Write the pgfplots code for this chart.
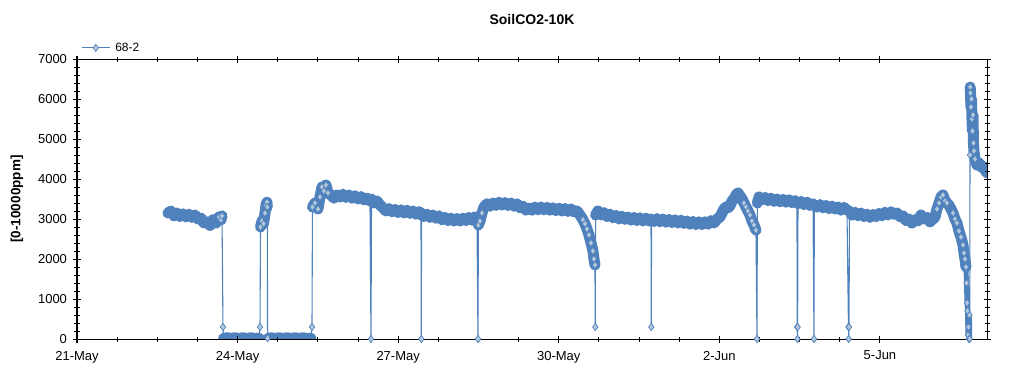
\documentclass[border=0pt]{standalone}
\usepackage{pgfplots}
\pgfplotsset{compat=1.18}
\usepackage{pgfplotstable}
\usepackage{fontspec}
\setmainfont{Liberation Sans}
\definecolor{serblue}{RGB}{79,129,189}
\definecolor{serfill}{RGB}{180,200,220}
% d = days after 21-May 00:00, v = ppm, b = 1 band point, 2 band point with visible marker, 3 narrow band point with marker, 0 isolated point
\pgfplotstableread{
d v b
1.700 3150 1
1.756 3200 1
1.812 3080 1
1.868 3150 1
1.924 3060 1
1.980 3130 1
2.036 3050 1
2.092 3120 1
2.148 3040 1
2.204 3100 1
2.260 3000 1
2.316 3020 1
2.372 2900 1
2.428 2930 1
2.485 2840 1
2.541 2980 1
2.597 2900 1
2.653 3050 2
2.690 2980 2
2.709 3080 2
2.727 300 0
2.737 15 1
2.802 30 1
2.877 10 1
2.952 30 1
3.026 10 1
3.101 30 1
3.176 10 1
3.250 30 1
3.325 10 1
3.400 20 1
3.419 300 0
3.428 2800 2
3.456 2950 2
3.484 2880 2
3.512 3150 2
3.531 3350 2
3.549 3420 2
3.555 3300 2
3.560 20 0
3.565 15 1
3.624 30 1
3.699 10 1
3.774 30 1
3.848 10 1
3.923 30 1
3.998 10 1
4.072 30 1
4.147 10 1
4.222 30 1
4.297 10 1
4.371 20 1
4.390 300 0
4.399 3300 2
4.446 3400 2
4.502 3250 2
4.539 3550 2
4.577 3800 2
4.614 3700 2
4.651 3850 2
4.689 3650 2
4.745 3600 1
4.801 3520 1
4.857 3600 1
4.913 3550 1
4.969 3620 1
5.025 3540 1
5.081 3600 1
5.137 3520 1
5.193 3580 1
5.249 3500 1
5.305 3560 1
5.361 3480 1
5.417 3520 1
5.473 3450 1
5.492 0 0
5.502 3500 1
5.548 3400 1
5.604 3450 1
5.660 3350 1
5.716 3280 1
5.772 3200 1
5.828 3260 1
5.884 3180 1
5.940 3240 1
5.997 3160 1
6.053 3230 1
6.109 3150 1
6.165 3220 1
6.221 3140 1
6.277 3200 1
6.333 3120 1
6.389 3180 1
6.426 3100 1
6.432 0 0
6.437 3150 1
6.482 3060 1
6.538 3120 1
6.594 3040 1
6.650 3100 1
6.706 3020 1
6.762 3080 1
6.818 2980 1
6.875 3040 1
6.931 2960 1
6.987 3020 1
7.043 2950 1
7.099 3010 1
7.155 2950 1
7.211 3020 1
7.267 2960 1
7.323 3040 1
7.379 2970 1
7.435 3050 1
7.472 2980 1
7.491 0 0
7.498 2850 2
7.528 2950 2
7.566 3150 2
7.603 3300 1
7.659 3380 1
7.715 3320 1
7.771 3400 1
7.827 3340 1
7.883 3420 1
7.939 3350 1
7.995 3410 1
8.052 3340 1
8.108 3400 1
8.164 3320 1
8.220 3380 1
8.276 3280 1
8.332 3320 1
8.388 3220 1
8.444 3270 1
8.500 3220 1
8.556 3300 1
8.612 3230 1
8.668 3300 1
8.724 3230 1
8.780 3290 1
8.836 3220 1
8.892 3280 1
8.948 3210 1
9.004 3270 1
9.060 3200 1
9.116 3260 1
9.172 3190 1
9.228 3250 1
9.284 3180 1
9.340 3200 1
9.396 3100 1
9.452 2980 2
9.490 2880 2
9.527 2750 2
9.564 2600 2
9.602 2400 2
9.639 2200 2
9.658 2000 2
9.676 1850 2
9.682 300 0
9.688 3100 1
9.732 3200 1
9.789 3100 1
9.845 3160 1
9.901 3060 1
9.957 3120 1
10.013 3030 1
10.069 3090 1
10.125 3000 1
10.181 3070 1
10.237 2990 1
10.293 3050 1
10.349 2970 1
10.405 3040 1
10.461 2960 1
10.517 3030 1
10.573 2950 1
10.629 3020 1
10.685 2950 1
10.723 3000 1
10.728 300 0
10.734 2980 1
10.779 2940 1
10.835 3010 1
10.891 2930 1
10.947 3000 1
11.003 2920 1
11.059 2990 1
11.115 2910 1
11.171 2980 1
11.227 2900 1
11.283 2970 1
11.339 2890 1
11.395 2950 1
11.451 2870 1
11.507 2940 1
11.563 2860 1
11.619 2930 1
11.676 2860 1
11.732 2930 1
11.788 2870 1
11.844 2960 1
11.900 2900 1
11.956 3000 1
12.012 3050 1
12.049 3150 1
12.087 3250 1
12.124 3300 1
12.161 3280 1
12.199 3330 1
12.236 3450 1
12.273 3500 1
12.311 3600 1
12.348 3650 1
12.385 3580 1
12.423 3500 1
12.460 3400 2
12.497 3300 2
12.535 3200 2
12.572 3100 2
12.609 2950 2
12.647 2850 2
12.684 2720 2
12.703 0 0
12.710 3400 1
12.741 3550 1
12.797 3480 1
12.853 3540 1
12.909 3460 1
12.965 3520 1
13.021 3440 1
13.077 3500 1
13.133 3430 1
13.189 3490 1
13.245 3420 1
13.301 3480 1
13.357 3410 1
13.413 3460 1
13.450 3400 1
13.454 300 0
13.458 0 0
13.462 300 0
13.469 3380 1
13.525 3440 1
13.581 3360 1
13.637 3420 1
13.693 3340 1
13.749 3380 1
13.768 0 0
13.774 3350 1
13.824 3300 1
13.880 3360 1
13.936 3280 1
13.992 3340 1
14.048 3260 1
14.104 3320 1
14.160 3250 1
14.216 3300 1
14.272 3220 1
14.328 3290 1
14.384 3220 1
14.412 300 0
14.416 0 0
14.422 300 0
14.431 3200 1
14.478 3100 1
14.534 3170 1
14.590 3080 1
14.646 3150 1
14.702 3060 1
14.758 3120 1
14.814 3040 1
14.870 3110 1
14.926 3060 1
14.982 3140 1
15.038 3080 1
15.094 3170 1
15.150 3100 1
15.206 3180 1
15.262 3120 1
15.318 3150 1
15.374 3060 1
15.430 3080 1
15.486 2960 1
15.542 3000 1
15.598 2900 1
15.654 2980 1
15.710 2950 1
15.766 3100 1
15.823 3000 1
15.879 3040 1
15.935 2930 1
15.991 3000 1
16.028 3050 1
16.065 3250 2
16.103 3400 2
16.140 3550 2
16.177 3600 2
16.215 3450 2
16.252 3400 2
16.289 3350 1
16.327 3250 1
16.364 3150 2
16.401 3000 2
16.439 2900 2
16.476 2700 2
16.513 2550 2
16.551 2350 2
16.570 2150 2
16.588 2000 2
16.607 1800 2
16.616 1400 3
16.626 900 3
16.635 700 3
16.644 100 3
16.654 300 3
16.663 0 3
16.672 600 3
16.677 0 3
16.682 4600 0
16.686 6300 2
16.691 6150 2
16.700 5800 2
16.710 6000 2
16.719 5500 2
16.728 5200 2
16.738 5600 2
16.747 4900 2
16.756 4700 2
16.775 4500 2
16.812 4350 1
16.850 4400 1
16.887 4300 1
16.925 4320 1
16.962 4230 1
17.000 4150 1
}\co
\begin{document}
\begin{tikzpicture}
\useasboundingbox (-77pt,-36pt) rectangle (947pt,339pt);
\begin{axis}[
  at={(0pt,0pt)}, anchor=south west,
  scale only axis, width=910pt, height=280pt,
  xmin=0, xmax=17, ymin=0, ymax=7000,
  xtick={0,3,6,9,12,15},
  xticklabels={21-May,24-May,27-May,30-May,2-Jun,5-Jun},
  minor x tick num=3,
  ytick={0,1000,2000,3000,4000,5000,6000,7000},
  minor y tick num=4,
  tick align=center,
  major tick length=7pt, minor tick length=5pt,
  every tick/.style={black, line width=1pt},
  axis line style={black, line width=1pt},
  axis on top,
  scaled y ticks=false,
  /pgf/number format/assume math mode=true,
  yticklabel={\pgfmathprintnumber[1000 sep={}]{\tick}},
  tick label style={font=\fontsize{13}{15}\selectfont},
  xticklabel style={yshift=-5pt},
  yticklabel style={xshift=-3pt},
  unbounded coords=jump,
  legend style={at={(0,1)}, anchor=south west, draw=none, fill=none,
    xshift=1pt, yshift=2pt, column sep=3pt, font=\fontsize{12}{14}\selectfont},
  legend image code/.code={\draw[mark repeat=2,mark phase=2] plot coordinates {(0pt,0pt) (14pt,0pt) (28pt,0pt)};},
]
\addlegendimage{color=serblue, line width=1.1pt, mark=diamond*, mark size=3.6pt,
  mark options={fill=serfill, draw=serblue, line width=0.7pt, solid}}
\addlegendentry{68-2}
% narrow band (final scatter down to zero)
\addplot[forget plot, color=serblue, line width=5pt, line join=round, line cap=round, no marks]
  table[x=d, y expr={\thisrow{b}>1 ? \thisrow{v} : nan}] {\co};
% band of dense readings
\addplot[forget plot, color=serblue, line width=11pt, line join=round, line cap=round, no marks]
  table[x=d, y expr={(\thisrow{b}==1 || \thisrow{b}==2) ? \thisrow{v} : nan}] {\co};
% thin connecting line through every reading
\addplot[forget plot, color=serblue, line width=1.1pt, no marks]
  table[x=d, y=v] {\co};
% visible markers
\addplot[forget plot, only marks, mark=diamond*, mark size=3.6pt,
  mark options={fill=serfill, draw=serblue, line width=0.7pt, solid}]
  table[x=d, y expr={\thisrow{b}==1 ? nan : \thisrow{v}}] {\co};
\end{axis}
\node[font=\bfseries\fontsize{14}{16}\selectfont] at (455pt,320pt) {SoilCO2-10K};
\node[font=\bfseries\fontsize{13.5}{16}\selectfont, rotate=90] at (-60pt,140pt) {[0-10000ppm]};
\end{tikzpicture}
\end{document}
